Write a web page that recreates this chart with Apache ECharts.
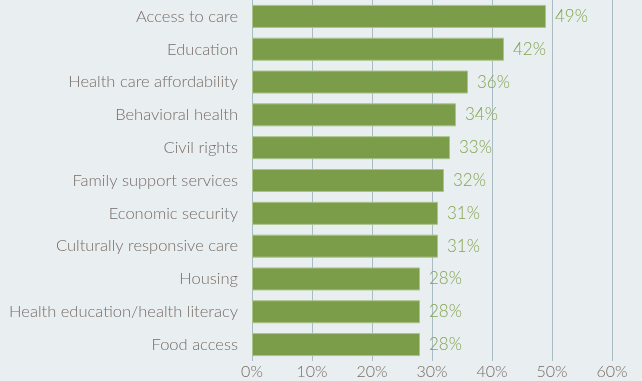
<!DOCTYPE html>
<html>
<head>
<meta charset="utf-8">
<script src="https://cdn.jsdelivr.net/npm/echarts@6/dist/echarts.min.js"></script>
<style>
  html, body { margin: 0; padding: 0; background: #e9eef0; }
  #chart { width: 642px; height: 381px; }
</style>
</head>
<body>
<div id="chart"></div>
<script>
// Issue areas, listed top to bottom
const categories = [
  'Access to care',
  'Education',
  'Health care affordability',
  'Behavioral health',
  'Civil rights',
  'Family support services',
  'Economic security',
  'Culturally responsive care',
  'Housing',
  'Health education/health literacy',
  'Food access'
];
// Share of respondents, percent
const values = [49, 42, 36, 34, 33, 32, 31, 31, 28, 28, 28];
// Horizontal axis ticks, percent
const tickValues = [0, 10, 20, 30, 40, 50, 60];

const FONT = 'Lato';
const chart = echarts.init(document.getElementById('chart'), null, { renderer: 'canvas' });

chart.setOption({
  backgroundColor: '#e9eef0',
  animation: false,
  grid: { left: 252, right: 30, top: 0, bottom: 20, containLabel: false },
  xAxis: {
    type: 'value',
    min: tickValues[0],
    max: tickValues[tickValues.length - 1],
    interval: 10,
    axisLine: { show: false },
    axisTick: { show: false },
    splitLine: { show: true, lineStyle: { color: '#a9bcc4', width: 1 } },
    axisLabel: {
      formatter: v => v + '%',
      color: '#766c66',
      fontFamily: FONT,
      fontWeight: 300,
      fontSize: 16,
      margin: 3
    }
  },
  yAxis: {
    type: 'category',
    data: categories,
    inverse: true,
    axisLine: { show: false },
    axisTick: { show: false },
    splitLine: { show: false },
    axisLabel: {
      color: '#766c66',
      fontFamily: FONT,
      fontWeight: 300,
      fontSize: 16.5,
      margin: 14
    }
  },
  series: [{
    type: 'bar',
    data: values,
    barWidth: 23,
    itemStyle: {
      color: '#7b9c48',
      borderColor: '#a9c38a',
      borderWidth: 1
    },
    label: {
      show: true,
      position: 'right',
      distance: 9,
      formatter: p => p.value + '%',
      color: '#84a552',
      fontFamily: FONT,
      fontWeight: 300,
      fontSize: 17
    }
  }]
});
</script>
</body>
</html>
